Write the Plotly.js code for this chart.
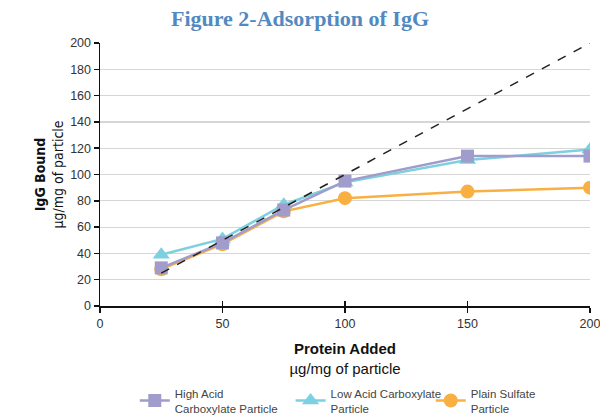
<!DOCTYPE html>
<html>
<head>
<meta charset="utf-8">
<script src="https://cdn.plot.ly/plotly-3.0.1.min.js"></script>
<style>
  html, body { margin: 0; padding: 0; background: #fff; }
  #chart { width: 600px; height: 416px; }
</style>
</head>
<body>
<div id="chart"></div>
<script>
// Protein added (µg/mg of particle)
const proteinAdded = [25, 50, 75, 100, 150, 200];

// IgG bound (µg/mg of particle) for each particle type
const highAcidBound = [29, 48, 73, 95, 114, 114];
const lowAcidBound = [39, 51, 77, 94, 111, 119];
const plainSulfateBound = [28, 47, 72, 82, 87, 90];

// Reference line: bound = added
const identityX = [25, 200];
const identityY = [25, 200];

const seriesNames = [
  'High Acid<br>Carboxylate Particle',
  'Low Acid Carboxylate<br>Particle',
  'Plain Sulfate<br>Particle'
];

const yTicks = [0, 20, 40, 60, 80, 100, 120, 140, 160, 180, 200];
const xTicks = [0, 50, 100, 150, 200];

const narrow = '"DejaVu Sans Condensed", "Liberation Sans Narrow", "Arial Narrow", sans-serif';
const sans = '"Liberation Sans", Arial, sans-serif';

const traces = [
  {
    x: proteinAdded, y: plainSulfateBound, name: seriesNames[2], legend: 'legend3',
    mode: 'lines+markers', type: 'scatter',
    line: { color: '#f8b042', width: 2.5 },
    marker: { symbol: 'circle', size: 14, color: '#f8b042' }
  },
  {
    x: proteinAdded, y: lowAcidBound, name: seriesNames[1], legend: 'legend2',
    mode: 'lines+markers', type: 'scatter',
    line: { color: '#7dd0e0', width: 2.5 },
    marker: { symbol: 'triangle-up', size: 15, color: '#7dd0e0' }
  },
  {
    x: proteinAdded, y: highAcidBound, name: seriesNames[0], legend: 'legend',
    mode: 'lines+markers', type: 'scatter',
    line: { color: '#a09ccb', width: 2.5 },
    marker: { symbol: 'square', size: 13, color: '#a09ccb' }
  },
  {
    x: identityX, y: identityY, showlegend: false, hoverinfo: 'skip',
    mode: 'lines', type: 'scatter',
    line: { color: '#222', width: 1.5, dash: 'dash' }
  },
  // companion axis used only for the inward half of the crossing x ticks
  {
    x: identityX, y: identityY, xaxis: 'x2', showlegend: false, hoverinfo: 'skip',
    mode: 'lines', type: 'scatter', line: { width: 0 }, opacity: 0
  }
];

function legendAt(x) {
  return {
    orientation: 'h', x: x, xanchor: 'left', y: -0.278, yanchor: 'top',
    font: { family: sans, size: 11.5, color: '#444' },
    bgcolor: 'rgba(0,0,0,0)'
  };
}

const layout = {
  width: 600, height: 416,
  margin: { l: 100, r: 10, t: 43, b: 110, autoexpand: false },
  paper_bgcolor: '#fff', plot_bgcolor: '#fff',
  title: {
    text: '<b>Figure 2-Adsorption of IgG</b>',
    font: { family: '"Liberation Serif", "Times New Roman", serif', size: 22, color: '#5189c0' },
    x: 0.5, xanchor: 'center', y: 0.975, yanchor: 'top'
  },
  xaxis: {
    range: [0, 200], tickvals: xTicks, ticktext: xTicks.map(String),
    showgrid: false, zeroline: false,
    showline: true, linecolor: '#111', linewidth: 1.5,
    ticks: 'outside', ticklen: 5, tickcolor: '#111', tickwidth: 1.5,
    ticklabeloverflow: 'allow',
    tickfont: { family: sans, size: 12.5, color: '#333' },
    title: {
      text: '<b>Protein Added</b><br>µg/mg of particle',
      font: { family: sans, size: 15, color: '#111' },
      standoff: 14
    },
    automargin: false,
    fixedrange: true
  },
  xaxis2: {
    overlaying: 'x', range: [0, 200], tickvals: xTicks, showticklabels: false,
    showgrid: false, zeroline: false, showline: false,
    ticks: 'inside', ticklen: 5, tickcolor: '#111', tickwidth: 1.5,
    automargin: false,
    fixedrange: true
  },
  yaxis: {
    range: [0, 200], tickvals: yTicks,
    showgrid: true, gridcolor: '#d6d6d6', gridwidth: 1.2,
    zeroline: false,
    showline: true, linecolor: '#111', linewidth: 1.5,
    ticks: 'outside', ticklen: 5, tickcolor: '#111', tickwidth: 1.5,
    tickfont: { family: sans, size: 12.5, color: '#333' },
    title: {
      text: '<b>IgG Bound</b><br>µg/mg of particle',
      font: { family: narrow, size: 14, color: '#111' },
      standoff: 3
    },
    automargin: false,
    fixedrange: true
  },
  legend: legendAt(0.071),
  legend2: legendAt(0.389),
  legend3: legendAt(0.675),
  showlegend: true
};

Plotly.newPlot('chart', traces, layout, { displayModeBar: false, staticPlot: true });
</script>
</body>
</html>
